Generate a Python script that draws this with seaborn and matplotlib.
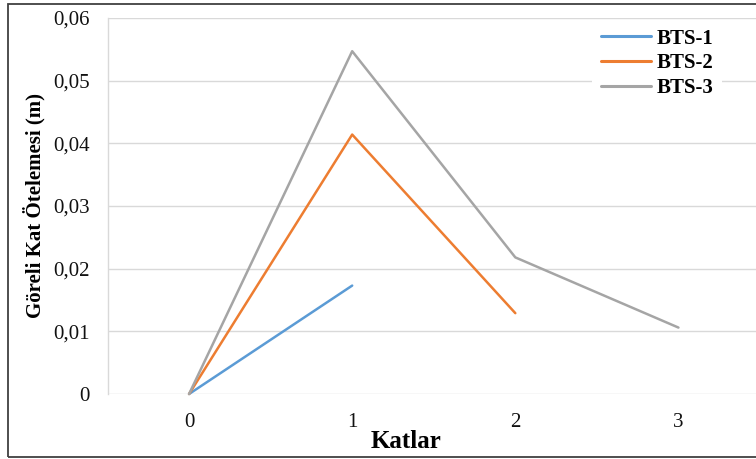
import matplotlib
matplotlib.use("Agg")
import matplotlib.pyplot as plt
import matplotlib.ticker as mticker
from matplotlib.patches import Rectangle
import numpy as np
import pandas as pd
import seaborn as sns

katlar = [0, 1, 2, 3]
bts1 = [0.0, 0.0173, np.nan, np.nan]
bts2 = [0.0, 0.0414, 0.0129, np.nan]
bts3 = [0.0, 0.0547, 0.0218, 0.0106]
series_names = ["BTS-1", "BTS-2", "BTS-3"]
colors = ["#5B9BD5", "#ED7D31", "#A5A5A5"]
y_ticks = [0, 0.01, 0.02, 0.03, 0.04, 0.05, 0.06]

rows = []
for name, vals in zip(series_names, [bts1, bts2, bts3]):
    for k, v in zip(katlar, vals):
        rows.append({"Katlar": k, "Deger": v, "Seri": name})
df = pd.DataFrame(rows).dropna()

sns.set_theme(style="white")
plt.rcParams["font.family"] = ["Liberation Serif", "DejaVu Serif"]

fig = plt.figure(figsize=(7.56, 4.59), dpi=100)
ax = fig.add_axes([107.5 / 756, 1 - 394 / 459, (760 - 107.5) / 756, (394 - 18) / 459])

sns.lineplot(data=df, x="Katlar", y="Deger", hue="Seri", hue_order=series_names,
             palette=colors, linewidth=1.8, ax=ax, legend=True)

ax.set_xlim(-0.5, 3.5)
ax.set_ylim(0, 0.06)
ax.set_xticks(katlar)
ax.set_xticklabels([str(k) for k in katlar])
ax.set_yticks(y_ticks)
ax.yaxis.set_major_formatter(mticker.FuncFormatter(
    lambda v, p: "0" if abs(v) < 1e-12 else f"{v:.2f}".replace(".", ",")))
ax.tick_params(axis="both", length=0, labelsize=15, colors="#111111")
ax.tick_params(axis="y", pad=13)
ax.tick_params(axis="x", pad=14)
ax.grid(axis="y", color="#d9d9d9", linewidth=1.0)
ax.set_axisbelow(True)
for s in ["top", "right", "bottom"]:
    ax.spines[s].set_visible(False)
ax.spines["left"].set_color("#d9d9d9")
ax.spines["left"].set_linewidth(1.0)
for ln in ax.get_lines():
    ln.set_clip_on(False)

ax.set_xlabel("")
ax.set_ylabel("Göreli Kat Ötelemesi (m)", fontsize=15, fontweight="bold", labelpad=5, color="black")
fig.text(406 / 756, 1 - 448 / 459, "Katlar", fontsize=18, fontweight="bold",
         ha="center", va="baseline", color="black")

leg = ax.legend(loc="upper left", bbox_to_anchor=(582 / 756, 1 - 10 / 459),
                bbox_transform=fig.transFigure, frameon=True, fancybox=False,
                facecolor="white", edgecolor="none", framealpha=1.0,
                prop={"size": 15, "weight": "bold"}, handlelength=2.4,
                handletextpad=0.3, labelspacing=0.22, borderpad=0.4)
for t in leg.get_texts():
    t.set_color("black")
for h in leg.get_lines():
    h.set_linewidth(2.2)

fig.patches.append(Rectangle((8 / 756, 1 - 457 / 459), 1.0, (457 - 4) / 459,
                             transform=fig.transFigure, fill=False,
                             edgecolor="#404040", linewidth=1.3))

fig.savefig("out.png", dpi=100)
